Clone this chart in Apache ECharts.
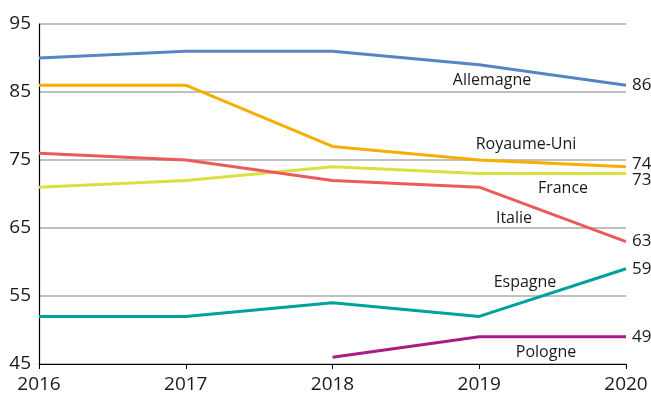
<!DOCTYPE html>
<html>
<head>
<meta charset="utf-8">
<script src="https://cdn.jsdelivr.net/npm/echarts@6/dist/echarts.min.js"></script>
<style>
  html, body { margin: 0; padding: 0; background: #fff; }
  #chart { width: 651px; height: 396px; }
</style>
</head>
<body>
<div id="chart"></div>
<script>
// Years on the horizontal axis
const years = ['2016', '2017', '2018', '2019', '2020'];

// Values per country (null = no value for that year)
const allemagne   = [90, 91, 91, 89, 86];
const royaumeUni  = [86, 86, 77, 75, 74];
const france      = [71, 72, 74, 73, 73];
const italie      = [76, 75, 72, 71, 63];
const espagne     = [52, 52, 54, 52, 59];
const pologne     = [null, null, 46, 49, 49];

// Vertical axis ticks
const yTicks = [45, 55, 65, 75, 85, 95];

const FONT = '"Open Sans", "Noto Sans", sans-serif';
const TEXT = '#1a1a1a';

function line(name, data, color, endOffsetY) {
  return {
    name: name,
    type: 'line',
    data: data,
    symbol: 'none',
    connectNulls: false,
    lineStyle: { color: color, width: 3 },
    itemStyle: { color: color },
    emphasis: { disabled: true },
    endLabel: {
      show: true,
      formatter: (p) => String(p.value),
      distance: 6,
      offset: [0, endOffsetY || 0],
      color: TEXT,
      fontFamily: FONT,
      fontSize: 17
    },
    z: 3
  };
}

// Country names placed beside their lines
const names = [
  { text: 'Allemagne',   x: 492, y: 80 },
  { text: 'Royaume-Uni', x: 526, y: 144 },
  { text: 'France',      x: 563, y: 188 },
  { text: 'Italie',      x: 514, y: 218 },
  { text: 'Espagne',     x: 525, y: 282 },
  { text: 'Pologne',     x: 546, y: 352 }
];

const chart = echarts.init(document.getElementById('chart'), null, { renderer: 'canvas' });

chart.setOption({
  animation: false,
  backgroundColor: '#fff',
  grid: { left: 39, right: 25, top: 24, bottom: 32, containLabel: false },
  xAxis: {
    type: 'category',
    data: years,
    boundaryGap: false,
    axisLine: { lineStyle: { color: '#000', width: 1.2 } },
    axisTick: { show: true, length: 5, lineStyle: { color: '#000', width: 1 }, alignWithLabel: true },
    axisLabel: { color: TEXT, fontFamily: FONT, fontSize: 19, margin: 11 },
    splitLine: { show: false }
  },
  yAxis: {
    type: 'value',
    min: yTicks[0],
    max: yTicks[yTicks.length - 1],
    interval: 10,
    axisLine: { show: true, lineStyle: { color: '#000', width: 1.2 } },
    axisTick: { show: false },
    axisLabel: { color: TEXT, fontFamily: FONT, fontSize: 19, margin: 8 },
    splitLine: { show: true, lineStyle: { color: '#ababab', width: 1.5 } }
  },
  series: [
    line('Allemagne', allemagne, '#5585c5'),
    line('Royaume-Uni', royaumeUni, '#f7ae00', -3),
    line('France', france, '#dadf44', 7),
    line('Italie', italie, '#ec5b5a'),
    line('Espagne', espagne, '#00a19a'),
    line('Pologne', pologne, '#a81e84')
  ],
  graphic: names.map((n) => ({
    type: 'text',
    x: n.x,
    y: n.y,
    z: 10,
    style: {
      text: n.text,
      fill: TEXT,
      font: '16px ' + FONT,
      textAlign: 'center',
      textVerticalAlign: 'middle'
    }
  }))
});
</script>
</body>
</html>
